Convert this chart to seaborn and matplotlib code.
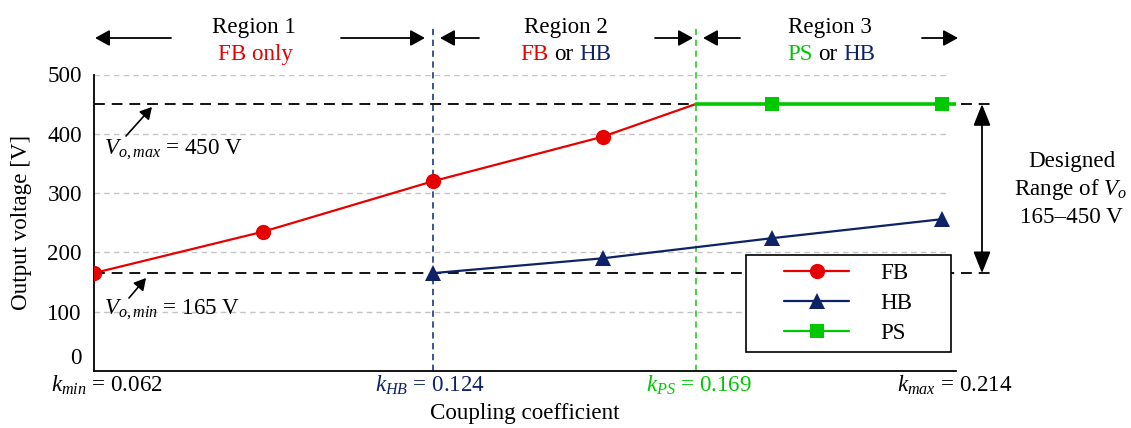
import matplotlib
matplotlib.use("Agg")
import matplotlib.pyplot as plt
from matplotlib.lines import Line2D
from matplotlib.legend_handler import HandlerLine2D
from matplotlib.transforms import blended_transform_factory, ScaledTranslation
import pandas as pd
import seaborn as sns

# ---------------- data ----------------
k_fb = [0.062, 0.093, 0.124, 0.155, 0.172]
v_fb = [165, 235, 320, 395, 450]
fb_marked = [0, 1, 2, 3]            # indices that carry a marker

k_hb = [0.124, 0.155, 0.186, 0.217]
v_hb = [165, 190, 224, 256]
hb_marked = [0, 1, 2, 3]

k_ps = [0.172, 0.186, 0.217, 0.2196]
v_ps = [450, 450, 450, 450]
ps_marked = [1, 2]

series_names = ["FB", "HB", "PS"]
y_ticks = [0, 100, 200, 300, 400, 500]
v_o_max = 450
v_o_min = 165
k_min_pos, k_hb_pos, k_ps_pos, k_max_pos = 0.062, 0.124, 0.172, 0.2196
k_texts = [r"$k_{min}$ = 0.062", r"$k_{HB}$ = 0.124", r"$k_{PS}$ = 0.169", r"$k_{max}$ = 0.214"]

# ---------------- style ----------------
RED = "#e60000"
NAVY = "#0d2366"
GREEN = "#00c800"
GRID = "#c4c4c4"
FS = 16.6

sns.set_theme(style="white")
plt.rcParams["font.family"] = ["Liberation Serif", "DejaVu Serif"]
plt.rcParams["mathtext.fontset"] = "custom"
plt.rcParams["mathtext.rm"] = "Liberation Serif"
plt.rcParams["mathtext.it"] = "Liberation Serif:italic"
plt.rcParams["mathtext.bf"] = "Liberation Serif:bold"
for key in ["text.color", "axes.labelcolor", "xtick.color", "ytick.color"]:
    plt.rcParams[key] = "black"

W, H = 1131, 428
fig = plt.figure(figsize=(W / 100, H / 100), dpi=100)
ax_l, ax_r, ax_t, ax_b = 93.6, 956.0, 74.5, 371.0
ax = fig.add_axes([ax_l / W, (H - ax_b) / H, (ax_r - ax_l) / W, (ax_b - ax_t) / H])

df_fb = pd.DataFrame({"k": k_fb, "v": v_fb})
df_hb = pd.DataFrame({"k": k_hb, "v": v_hb})
df_ps = pd.DataFrame({"k": k_ps, "v": v_ps})

sns.lineplot(data=df_fb, x="k", y="v", ax=ax, color=RED, lw=1.6, marker="o",
             markersize=11, markeredgewidth=0, markevery=fb_marked, zorder=5)
sns.lineplot(data=df_hb, x="k", y="v", ax=ax, color=NAVY, lw=1.6, marker="^",
             markersize=11, markeredgewidth=0, markevery=hb_marked, zorder=5)
sns.lineplot(data=df_ps, x="k", y="v", ax=ax, color=GREEN, lw=2.6, marker="s",
             markersize=10.5, markeredgewidth=0, markevery=ps_marked, zorder=6)

ax.set_xlim(k_min_pos, k_max_pos)
ax.set_ylim(0, 500)
ax.set_yticks(y_ticks)
ax.set_yticklabels([str(t) for t in y_ticks], fontsize=FS)
ax.set_xticks([])
ax.tick_params(axis="y", length=0, pad=8.4)
ax.set_axisbelow(True)
# dashed horizontal grid that stops a little before the end of the x axis
for t in y_ticks[1:]:
    ax.axhline(t, xmin=0, xmax=(946 - ax_l) / (ax_r - ax_l), color=GRID,
               ls=(0, (4, 3)), lw=1.0, zorder=0.5)
for s in ["top", "right"]:
    ax.spines[s].set_visible(False)
for s in ["left", "bottom"]:
    ax.spines[s].set_color("black")
    ax.spines[s].set_linewidth(1.3)

# the "0" label sits on the axis line, as in the reference
zero_lbl = ax.get_yticklabels()[0]
zero_lbl.set_transform(zero_lbl.get_transform() +
                       ScaledTranslation(0, 11 / 72, fig.dpi_scale_trans))

ax.set_ylabel("Output voltage [V]", fontsize=FS, labelpad=11)
ax.set_xlabel("Coupling coefficient", fontsize=FS, labelpad=23)

# limit lines
ext = (990 - ax_l) / (ax_r - ax_l)
for v in (v_o_max, v_o_min):
    ax.axhline(v, xmin=0, xmax=ext, clip_on=False, color="black", lw=1.3,
               ls=(0, (6, 3.8)), zorder=3)

# boundary lines
top_frac = (ax_b - 28) / (ax_b - ax_t)
ax.axvline(k_hb_pos, ymin=0, ymax=top_frac, clip_on=False, color="#2b4a8c",
           lw=1.3, ls=(0, (3.5, 2.5)), zorder=2)
ax.axvline(k_ps_pos, ymin=0, ymax=top_frac, clip_on=False, color="#33d633",
           lw=1.3, ls=(0, (3.5, 2.5)), zorder=2)

# legend
handles = [
    Line2D([], [], color=RED, lw=1.6, marker="o", markersize=11, markeredgewidth=0),
    Line2D([], [], color=NAVY, lw=1.6, marker="^", markersize=11, markeredgewidth=0),
    Line2D([], [], color=GREEN, lw=1.6, marker="s", markersize=10.5, markeredgewidth=0),
]
span = ax_r - ax_l
leg = ax.legend(handles, series_names, loc="lower left", mode="expand",
                bbox_to_anchor=((746 - ax_l) / span, (ax_b - 352) / (ax_b - ax_t),
                                (951 - 746) / span, 0.3),
                borderaxespad=0, fontsize=FS, frameon=True, fancybox=False,
                framealpha=1, edgecolor="black", handlelength=4.1,
                handletextpad=1.35, labelspacing=0.37, borderpad=0.36,
                handler_map={Line2D: HandlerLine2D(xpad=1.3)})
leg.get_frame().set_linewidth(1.2)
leg.set_zorder(10)

# ---------------- annotations (figure pixels, y from top) ----------------
def fp(x, y):
    return (x, H - y)

def arrow(tail, tip, ms=22, hl=0.4, hw=0.22, lw=1.3, style="-|>"):
    ax.annotate("", xy=fp(*tip), xytext=fp(*tail), xycoords="figure pixels",
                textcoords="figure pixels", annotation_clip=False,
                arrowprops=dict(arrowstyle=f"{style},head_length={hl},head_width={hw}",
                                color="black", lw=lw, shrinkA=0, shrinkB=0,
                                mutation_scale=ms))

def ftext(x, y, s, color="black", ha="center", va="baseline", fs=FS):
    return fig.text(x / W, (H - y) / H, s, color=color, ha=ha, va=va, fontsize=fs)

renderer = fig.canvas.get_renderer()

def width_of(s, fs=FS):
    t = fig.text(0, 0, s, fontsize=fs)
    w = t.get_window_extent(renderer).width
    t.remove()
    return w

def multicolor(xc, y, parts, fs=FS):
    sp = width_of("a a", fs) - width_of("aa", fs)
    ws = [width_of(s, fs) for s, _ in parts]
    total = sum(ws) + sp * (len(parts) - 1)
    x = xc - total / 2
    for (s, c), w in zip(parts, ws):
        ftext(x, y, s, color=c, ha="left", fs=fs)
        x += w + sp

# region headers
ARR_Y = 38
arrow((171, ARR_Y), (95, ARR_Y))
arrow((341, ARR_Y), (425, ARR_Y))
arrow((479, ARR_Y), (440, ARR_Y))
arrow((655, ARR_Y), (693, ARR_Y))
arrow((740, ARR_Y), (703, ARR_Y))
arrow((922, ARR_Y), (958, ARR_Y))

ftext(254, 33, "Region 1")
ftext(255, 60, "FB only", color=RED)
ftext(566, 33, "Region 2")
multicolor(566, 60, [("FB", RED), ("or", "black"), ("HB", NAVY)])
ftext(830, 33, "Region 3")
multicolor(831, 60, [("PS", GREEN), ("or", "black"), ("HB", NAVY)])

# Vo labels
ftext(104, 154, r"$V_{o,max}$ = 450 V", ha="left")
arrow((126, 136), (152, 107), ms=14, hl=0.5, hw=0.28, lw=1.2)
ftext(104, 314, r"$V_{o,min}$ = 165 V", ha="left")
arrow((129, 298), (146, 278), ms=14, hl=0.5, hw=0.28, lw=1.2)

# designed range double arrow (y from data)
tr = blended_transform_factory(ax.transAxes, ax.transData)
xa = (982 - ax_l) / (ax_r - ax_l)
ax.annotate("", xy=(xa, v_o_max), xytext=(xa, v_o_min), xycoords=tr, textcoords=tr,
            annotation_clip=False,
            arrowprops=dict(arrowstyle="<|-|>,head_length=0.55,head_width=0.22",
                            color="black", lw=1.3, shrinkA=0, shrinkB=0,
                            mutation_scale=24))
ftext(1072, 167, "Designed")
ftext(1071, 195, r"Range of $V_o$")
ftext(1071, 223, "165\u2013450 V")

# k labels
ftext(107, 392, k_texts[0])
ftext(430, 392, k_texts[1], color=NAVY)
ftext(699, 392, k_texts[2], color=GREEN)
ftext(955, 392, k_texts[3])

fig.savefig("out.png", dpi=100)
